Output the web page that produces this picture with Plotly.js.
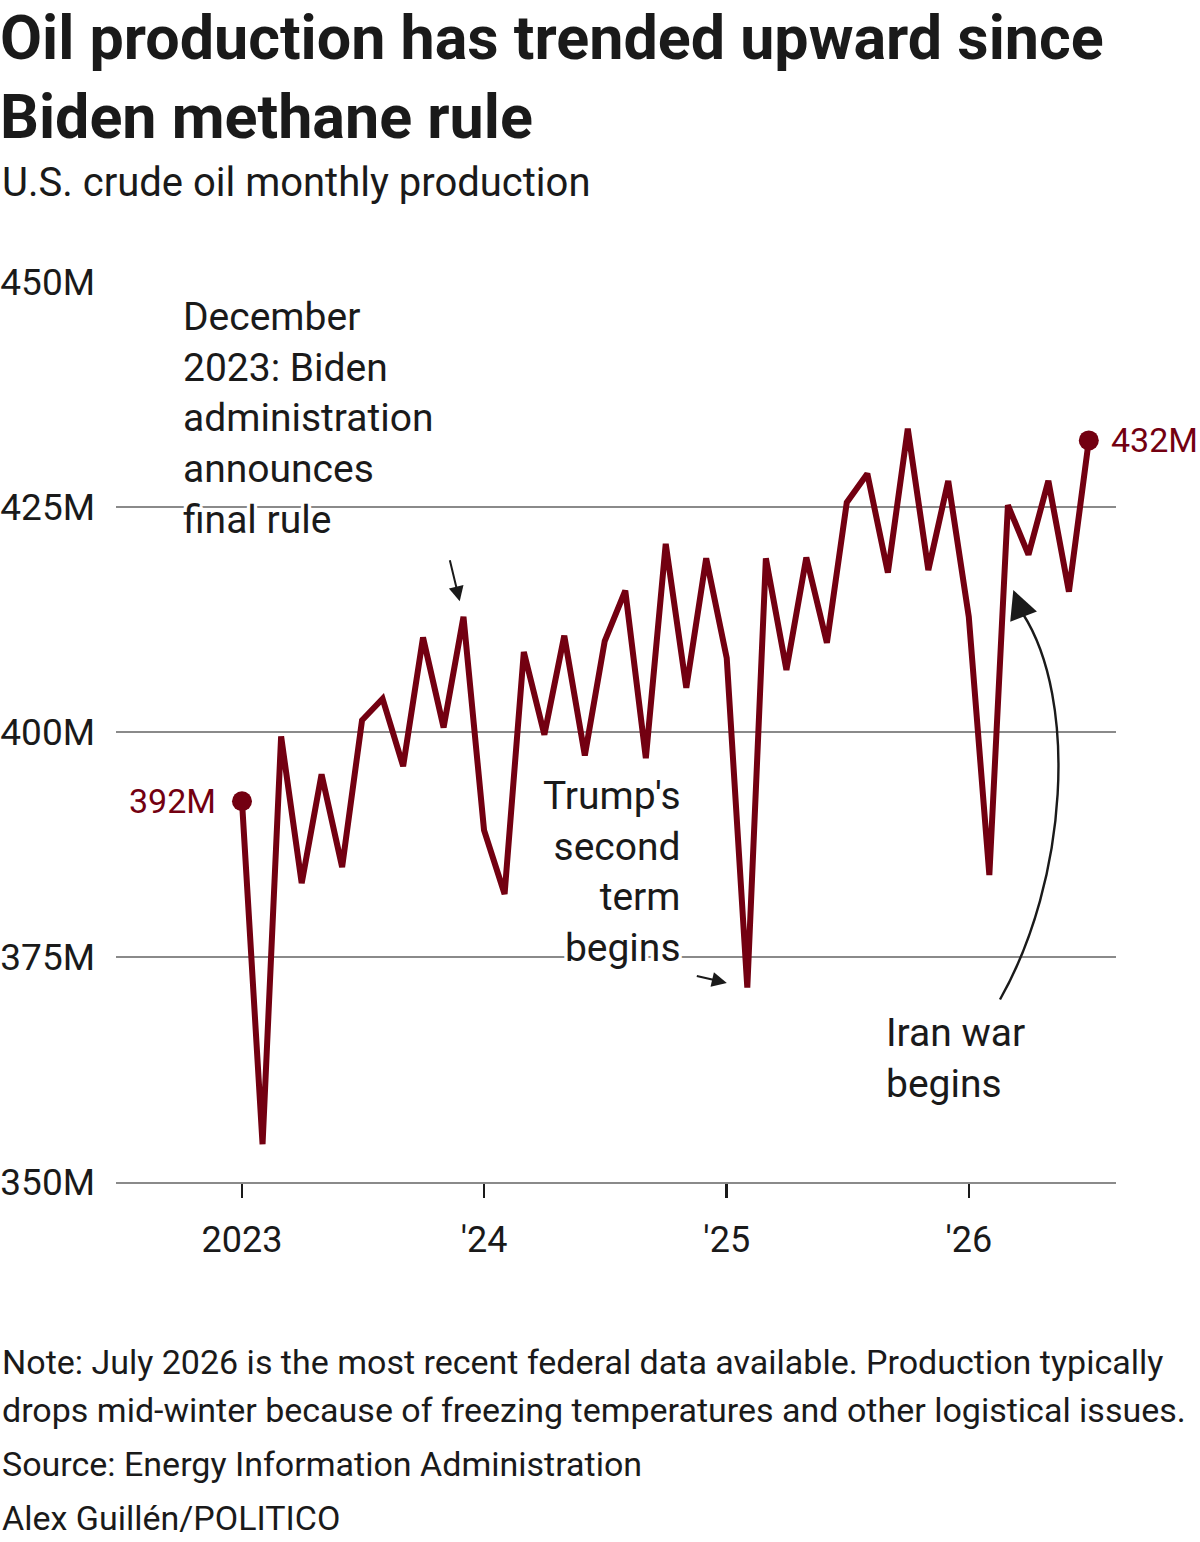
<!DOCTYPE html>
<html>
<head>
<meta charset="utf-8">
<script src="https://cdn.plot.ly/plotly-3.0.1.min.js"></script>
<style>
  html, body { margin: 0; padding: 0; background: #ffffff; }
  #chart { width: 1200px; height: 1542px; }
</style>
</head>
<body>
<div id="chart"></div>
<script>
// ---- Data (U.S. crude oil monthly production, millions of barrels) ----
const months = [
  '2023-01-01','2023-02-01','2023-03-01','2023-04-01','2023-05-01','2023-06-01',
  '2023-07-01','2023-08-01','2023-09-01','2023-10-01','2023-11-01','2023-12-01',
  '2024-01-01','2024-02-01','2024-03-01','2024-04-01','2024-05-01','2024-06-01',
  '2024-07-01','2024-08-01','2024-09-01','2024-10-01','2024-11-01','2024-12-01',
  '2025-01-01','2025-02-01','2025-03-01','2025-04-01','2025-05-01','2025-06-01',
  '2025-07-01','2025-08-01','2025-09-01','2025-10-01','2025-11-01','2025-12-01',
  '2026-01-01','2026-02-01','2026-03-01','2026-04-01','2026-05-01','2026-06-01',
  '2026-07-01'
];
const production = [
  392.3, 354.2, 399.5, 383.2, 395.3, 385.0, 401.3, 403.7, 396.2, 410.5, 400.5, 412.8,
  389.1, 382.0, 408.9, 399.7, 410.7, 397.4, 410.1, 415.7, 397.1, 420.9, 404.9, 419.3,
  408.2, 371.6, 419.3, 406.9, 419.4, 409.9, 425.5, 428.7, 417.7, 433.7, 418.0, 427.9,
  412.8, 384.1, 425.2, 419.7, 427.9, 415.6, 432.4
];
const yTickVals = [350, 375, 400, 425, 450];
const yTickText = ['350M', '375M', '400M', '425M', '450M'];
const xTickVals = ['2023-01-01', '2024-01-01', '2025-01-01', '2026-01-01'];
const xTickText = ['2023', "'24", "'25", "'26"];
const endLabels = ['392M', '432M'];

const RED = '#730011';
const INK = '#1a1a1a';
const FONT = 'Roboto, "Noto Sans", sans-serif';
const HALO = '3px 0 0 #fff, -3px 0 0 #fff, 0 3px 0 #fff, 0 -3px 0 #fff, 3px 3px 0 #fff, -3px -3px 0 #fff, 3px -3px 0 #fff, -3px 3px 0 #fff';

const first = 0, last = production.length - 1;

const traces = [
  {
    type: 'scatter', mode: 'lines',
    x: months, y: production,
    line: { color: RED, width: 6, shape: 'linear' },
    hoverinfo: 'skip', showlegend: false
  },
  {
    type: 'scatter', mode: 'markers',
    x: [months[first], months[last]],
    y: [production[first], production[last]],
    marker: { color: RED, size: 20 },
    hoverinfo: 'skip', showlegend: false
  }
];

const annFont = { family: FONT, size: 39, color: INK, shadow: HALO };
const footFont = { family: FONT, size: 34, color: INK };

const annotations = [
  // subtitle
  { xref: 'paper', yref: 'paper', x: -0.116, y: 1.1111, xanchor: 'left', yanchor: 'middle',
    text: 'U.S. crude oil monthly production', showarrow: false,
    font: { family: FONT, size: 40, color: INK } },
  // end labels
  { xref: 'x', yref: 'y', x: months[first], y: production[first], xanchor: 'right', yanchor: 'middle',
    xshift: -24, text: endLabels[0], showarrow: false,
    font: { family: FONT, size: 34, color: RED } },
  { xref: 'x', yref: 'y', x: months[last], y: production[last], xanchor: 'left', yanchor: 'middle',
    xshift: 20, text: endLabels[1], showarrow: false,
    font: { family: FONT, size: 34, color: RED } },
  // Biden text
  { xref: 'paper', yref: 'paper', x: 0.065, y: 0.848, xanchor: 'left', yanchor: 'middle', align: 'left',
    text: 'December<br>2023: Biden<br>administration<br>announces<br>final rule', showarrow: false,
    font: annFont },
  // Biden arrow
  { xref: 'x', yref: 'y', x: months[11], y: production[11], ax: -14, ay: -58,
    text: '', showarrow: true, arrowhead: 2, arrowsize: 1.5, arrowwidth: 2, arrowcolor: INK, standoff: 16 },
  // Trump text
  { xref: 'paper', yref: 'paper', x: 0.567, y: 0.3444, xanchor: 'right', yanchor: 'middle', align: 'right',
    text: "Trump's<br>second<br>term<br>begins", showarrow: false, font: annFont },
  // Trump arrow
  { xref: 'x', yref: 'y', x: months[25], y: production[25], ax: -52, ay: -12,
    text: '', showarrow: true, arrowhead: 2, arrowsize: 1.5, arrowwidth: 2, arrowcolor: INK, standoff: 21 },
  // Iran text
  { xref: 'paper', yref: 'paper', x: 0.768, y: 0.1367, xanchor: 'left', yanchor: 'middle', align: 'left',
    text: 'Iran war<br>begins', showarrow: false, font: annFont },
  // Iran arrow head
  { xref: 'paper', yref: 'paper', x: 0.8973, y: 0.6578, ax: 10, ay: 26,
    text: '', showarrow: true, arrowhead: 2, arrowsize: 2.6, arrowwidth: 2.2, arrowcolor: INK, standoff: 0 },
  // footer
  { xref: 'paper', yref: 'paper', x: -0.116, y: -0.2, xanchor: 'left', yanchor: 'middle', showarrow: false,
    text: 'Note: July 2026 is the most recent federal data available. Production typically', font: footFont },
  { xref: 'paper', yref: 'paper', x: -0.116, y: -0.2533, xanchor: 'left', yanchor: 'middle', showarrow: false,
    text: 'drops mid-winter because of freezing temperatures and other logistical issues.', font: footFont },
  { xref: 'paper', yref: 'paper', x: -0.116, y: -0.3133, xanchor: 'left', yanchor: 'middle', showarrow: false,
    text: 'Source: Energy Information Administration', font: footFont },
  { xref: 'paper', yref: 'paper', x: -0.116, y: -0.3733, xanchor: 'left', yanchor: 'middle', showarrow: false,
    text: 'Alex Guillén/POLITICO', font: footFont }
];

const shapes = [
  { type: 'path', xref: 'paper', yref: 'paper', layer: 'above',
    path: 'M 0.884,0.20278 C 0.952,0.33556 0.962,0.53556 0.907,0.63111',
    line: { color: INK, width: 2.4 } }
];

const layout = {
  width: 1200, height: 1542,
  margin: { l: 116, r: 84, t: 282, b: 360 },
  paper_bgcolor: '#ffffff', plot_bgcolor: '#ffffff',
  font: { family: FONT, color: INK },
  title: {
    text: '<b>Oil production has trended upward since<br>Biden methane rule</b>',
    font: { family: FONT, size: 61, color: INK, weight: 700 },
    x: 0, xref: 'container', xanchor: 'left',
    y: 0.9618, yref: 'container', yanchor: 'top',
    pad: { t: 0, l: 0 }
  },
  showlegend: false,
  hovermode: false,
  xaxis: {
    type: 'date',
    range: ['2022-06-25', '2026-08-11'],
    tickvals: xTickVals, ticktext: xTickText,
    ticks: 'outside', ticklen: 14, tickwidth: 2.5, tickcolor: INK,
    ticklabelstandoff: 11,
    tickfont: { family: FONT, size: 36, color: INK },
    showgrid: false, zeroline: false,
    showline: true, linecolor: '#8a8a8a', linewidth: 2
  },
  yaxis: {
    range: [350, 450],
    tickvals: yTickVals, ticktext: yTickText,
    ticks: '', ticklabelstandoff: 20,
    tickfont: { family: FONT, size: 37, color: INK },
    showgrid: true, gridcolor: '#8a8a8a', gridwidth: 2,
    zeroline: false, showline: false
  },
  annotations: annotations,
  shapes: shapes
};

Plotly.newPlot('chart', traces, layout, { staticPlot: true, displayModeBar: false });
</script>
</body>
</html>
